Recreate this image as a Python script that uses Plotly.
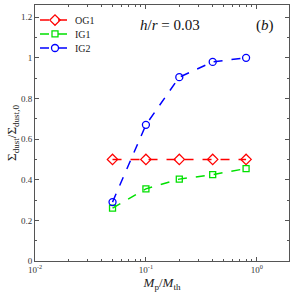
import plotly.graph_objects as go
import numpy as np

mass_ratio = [0.05, 0.1, 0.2, 0.4, 0.8]
og1 = [0.5, 0.5, 0.5, 0.5, 0.5]
ig1 = [0.26, 0.355, 0.403, 0.425, 0.455]
ig2 = [0.29, 0.67, 0.905, 0.98, 1.0]
x_tickvals = [0.01, 0.1, 1]
x_ticktext = ["10<sup>-2</sup>", "10<sup>-1</sup>", "10<sup>0</sup>"]
y_tickvals = [0, 0.2, 0.4, 0.6, 0.8, 1.0, 1.2]
y_ticktext = ["0", "0.2", "0.4", "0.6", "0.8", "1", "1.2"]

font = "Liberation Serif, Times New Roman, serif"
fig = go.Figure()
series = [
    ("OG1", og1, "#ff0000", "diamond-open", 8, "legend", 0.941),
    ("IG1", ig1, "#00e000", "square-open", 6, "legend2", 0.887),
    ("IG2", ig2, "#0000ff", "circle-open", 7, "legend3", 0.832),
]
legends = {}
for name, vals, col, sym, sz, leg, ly in series:
    fig.add_trace(go.Scatter(
        x=mass_ratio, y=vals, name=name, mode="lines+markers", legend=leg,
        line=dict(color=col, width=1.5, dash="dash"),
        marker=dict(symbol=sym, size=sz, color=col, line=dict(width=1.3, color=col)),
    ))
    legends[leg] = dict(x=0.0, y=ly, xanchor="left", yanchor="middle",
                        bgcolor="rgba(0,0,0,0)", font=dict(family=font, size=10, color="#222"),
                        itemwidth=30)

fig.update_layout(
    width=293, height=293,
    margin=dict(l=35, r=4, t=5, b=32, autoexpand=False),
    paper_bgcolor="white", plot_bgcolor="white",
    font=dict(family=font, size=9, color="#333"),
    showlegend=True,
    **legends,
    xaxis=dict(type="log", range=[-2, np.log10(1.95)], automargin=False,
               tickvals=x_tickvals, ticktext=x_ticktext,
               ticks="inside", ticklen=4, tickcolor="#555",
               showline=True, linecolor="#555", mirror="ticks", showgrid=False, zeroline=False,
               minor=dict(ticks="inside", ticklen=2, tickcolor="#555",
                          tickvals=[v * d for d in [0.01, 0.1, 1] for v in range(2, 10) if v * d < 1.95]),
               title=dict(text="<i>M</i><sub>p</sub>/<i>M</i><sub>th</sub>", font=dict(family=font, size=13, color="#222"), standoff=1)),
    yaxis=dict(range=[0, 1.26], automargin=False,
               tickvals=y_tickvals, ticktext=y_ticktext,
               ticks="inside", ticklen=4, tickcolor="#555",
               showline=True, linecolor="#555", mirror="ticks", showgrid=False, zeroline=False,
               minor=dict(ticks="inside", ticklen=2, tickcolor="#555", dtick=0.1),
               title=dict(text="Σ<sub>dust</sub>/Σ<sub>dust,0</sub>", font=dict(family=font, size=13, color="#222"), standoff=1)),
    annotations=[
        dict(x=0.53, y=0.92, xref="paper", yref="paper", text="<i>h</i>/<i>r</i> = 0.03",
             showarrow=False, font=dict(family=font, size=15, color="#111"), xanchor="center", yanchor="middle"),
        dict(x=0.905, y=0.92, xref="paper", yref="paper", text="(<i>b</i>)",
             showarrow=False, font=dict(family=font, size=15, color="#111"), xanchor="center", yanchor="middle"),
    ],
)
fig.write_html("out.html", config={"displayModeBar": False},
               post_script="document.body.style.margin='0';")
